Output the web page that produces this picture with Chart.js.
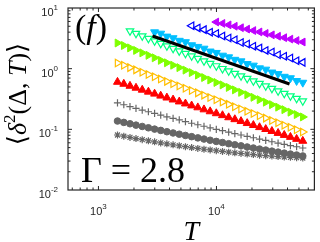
<!DOCTYPE html>
<html>
<head>
<meta charset="utf-8">
<script src="https://cdn.jsdelivr.net/npm/chart.js@4"></script>
<style>
    body { margin: 0; background: #fff; }
</style>
</head>
<body>
<canvas id="msdChart" width="320" height="242"></canvas>
<script>
// lag times T (shared grid, each curve starts at a different index)
const T = [1450, 1640, 1850, 2080, 2350, 2650, 2990, 3370, 3800, 4290, 4840, 5460, 6160, 6950, 7840,
           8840, 9970, 11250, 12690, 14310, 16150, 18210, 20550, 23180, 26150, 29500, 33280, 37540,
           42350, 47770, 53890];

// <delta^2(Delta,T)> for each curve, top to bottom
const magenta = [5.87, 5.57, 5.27, 5.0, 4.73, 4.49, 4.25, 4.03, 3.81, 3.61, 3.42, 3.24, 3.07, 2.91, 2.75];
const blue = [5.1, 4.7, 4.4, 4.0, 3.8, 3.45, 3.2, 3.0, 2.7, 2.55, 2.35, 2.2, 2.0, 1.88, 1.7, 1.6, 1.5, 1.35, 1.27];
const cyan = [4.0, 3.8, 3.4, 3.2, 2.9, 2.75, 2.45, 2.3, 2.15, 1.93, 1.83, 1.65, 1.55, 1.41, 1.33, 1.2, 1.13,
              1.02, 0.97, 0.87, 0.82, 0.74, 0.70, 0.63, 0.59];
const green = [4.18, 3.80, 3.46, 3.14, 2.86, 2.60, 2.37, 2.15, 1.95, 1.78, 1.62, 1.47, 1.34, 1.22, 1.11, 1.0,
               0.916, 0.834, 0.757, 0.689, 0.627, 0.570, 0.519, 0.471, 0.429, 0.390, 0.355, 0.323, 0.293];
const lime = [2.65, 2.41, 2.20, 2.00, 1.82, 1.66, 1.51, 1.37, 1.25, 1.14, 1.04, 0.946, 0.861, 0.783, 0.714,
              0.650, 0.592, 0.540, 0.491, 0.447, 0.407, 0.371, 0.337, 0.308, 0.280, 0.255, 0.232, 0.211,
              0.192, 0.175, 0.160];
const orange = [1.24, 1.14, 1.04, 0.955, 0.875, 0.802, 0.735, 0.673, 0.617, 0.565, 0.519, 0.475, 0.436, 0.399,
                0.366, 0.335, 0.307, 0.281, 0.258, 0.236, 0.216, 0.198, 0.182, 0.167, 0.153, 0.140, 0.128,
                0.117, 0.108, 0.0986, 0.0904];
const red = [0.603, 0.560, 0.519, 0.482, 0.447, 0.415, 0.385, 0.357, 0.332, 0.308, 0.286, 0.265, 0.246, 0.229,
             0.212, 0.197, 0.183, 0.170, 0.157, 0.146, 0.136, 0.126, 0.117, 0.108, 0.1005, 0.0933, 0.0867,
             0.0804, 0.0746, 0.0692, 0.0643];
const grayPlus = [0.272, 0.254, 0.237, 0.222, 0.208, 0.195, 0.183, 0.172, 0.161, 0.152, 0.143, 0.134, 0.126,
                  0.119, 0.1125, 0.106, 0.100, 0.0949, 0.0898, 0.0851, 0.0807, 0.0765, 0.0726, 0.0690, 0.0656,
                  0.0624, 0.0594, 0.0566, 0.0540, 0.0516, 0.0492];
const grayCircle = [0.137, 0.130, 0.1235, 0.1173, 0.1115, 0.106, 0.1008, 0.096, 0.0914, 0.0871, 0.0831, 0.0793,
                    0.0757, 0.0723, 0.0691, 0.0661, 0.0632, 0.0606, 0.058, 0.0556, 0.0534, 0.0512, 0.0492,
                    0.0473, 0.0455, 0.0437, 0.0421, 0.0405, 0.0391, 0.0377, 0.0364];
const grayStar = [0.0807, 0.077, 0.0736, 0.0705, 0.0675, 0.0648, 0.0622, 0.0598, 0.0576, 0.0555, 0.0536, 0.0518,
                  0.0501, 0.0485, 0.047, 0.0457, 0.0444, 0.0432, 0.0421, 0.041, 0.040, 0.0392, 0.0383, 0.0375,
                  0.0368, 0.0362, 0.0356, 0.035, 0.0345, 0.0341, 0.0337];

// guide line (power law)
const guideT = [2870, 41600];
const guideY = [3.45, 0.559];

const xTickExps = [3, 4];
const yTickExps = [-2, -1, 0, 1];

function series(start, values, color, shape, rotation, filled, radius) {
    return {
        data: values.map((v, i) => ({ x: T[start + i], y: v })),
        showLine: false,
        pointStyle: shape,
        pointRotation: rotation,
        pointRadius: radius,
        pointBorderWidth: filled ? 1 : 1.2,
        pointBorderColor: color,
        pointBackgroundColor: filled ? color : 'rgba(0,0,0,0)'
    };
}

const gray = '#666666';
const datasets = [
    {
        data: guideT.map((t, i) => ({ x: t, y: guideY[i] })),
        showLine: true,
        borderColor: '#000',
        borderWidth: 3,
        pointRadius: 0
    },
    series(16, magenta, '#bf00ff', 'triangle', 270, true, 4.5),
    series(12, blue, '#0000ff', 'triangle', 270, false, 4.3),
    series(6, cyan, '#00bfff', 'triangle', 180, true, 4.6),
    series(2, green, '#00ff80', 'triangle', 180, false, 4.3),
    series(0, lime, '#80ff00', 'triangle', 90, true, 4.6),
    series(0, orange, '#ffbf00', 'triangle', 90, false, 4.3),
    series(0, red, '#ff0000', 'triangle', 0, true, 4.6),
    series(0, grayPlus, gray, 'cross', 0, false, 3.6),
    series(0, grayCircle, gray, 'circle', 0, true, 3.3),
    series(0, grayStar, gray, 'star', 0, false, 3.5)
];

function drawRuns(ctx, parts, x, y) {
    let cx = x;
    parts.forEach(function(p) {
        ctx.font = p[1];
        ctx.fillText(p[0], cx, y + (p[2] || 0));
        cx += ctx.measureText(p[0]).width;
    });
    return cx - x;
}

function runsWidth(ctx, parts) {
    let w = 0;
    parts.forEach(function(p) { ctx.font = p[1]; w += ctx.measureText(p[0]).width; });
    return w;
}

const sans = '"Liberation Sans", Arial, sans-serif';
const serif = '"Liberation Serif", "DejaVu Serif", serif';

const framePlugin = {
    id: 'frame',
    afterDraw(chart) {
        const ctx = chart.ctx;
        const a = chart.chartArea;
        const xs = chart.scales.x, ys = chart.scales.y;
        ctx.save();
        ctx.strokeStyle = '#262626';
        ctx.lineWidth = 1.2;
        ctx.strokeRect(a.left, a.top, a.right - a.left, a.bottom - a.top);

        // inward ticks on all four sides
        ctx.lineWidth = 1;
        ctx.beginPath();
        for (let e = 2; e <= 4; e++) {
            for (let m = 1; m <= 9; m++) {
                const px = xs.getPixelForValue(m * Math.pow(10, e));
                if (px < a.left + 1 || px > a.right - 1) continue;
                const len = m === 1 ? 4 : 2.5;
                ctx.moveTo(px, a.bottom); ctx.lineTo(px, a.bottom - len);
                ctx.moveTo(px, a.top); ctx.lineTo(px, a.top + len);
            }
        }
        for (let e = -2; e <= 1; e++) {
            for (let m = 1; m <= 9; m++) {
                const py = ys.getPixelForValue(m * Math.pow(10, e));
                if (py < a.top + 1 || py > a.bottom - 1) continue;
                const len = m === 1 ? 4 : 2.5;
                ctx.moveTo(a.left, py); ctx.lineTo(a.left + len, py);
                ctx.moveTo(a.right, py); ctx.lineTo(a.right - len, py);
            }
        }
        ctx.stroke();

        // tick labels with superscript exponents
        ctx.fillStyle = '#262626';
        ctx.textAlign = 'left';
        ctx.textBaseline = 'alphabetic';
        xTickExps.forEach(function(e) {
            const parts = [['10', '11px ' + sans], [String(e), '8px ' + sans, -6]];
            const w = runsWidth(ctx, parts);
            drawRuns(ctx, parts, xs.getPixelForValue(Math.pow(10, e)) - w / 2, 215);
        });
        yTickExps.forEach(function(e) {
            const parts = [['10', '11px ' + sans], [String(e), '8px ' + sans, -6]];
            const w = runsWidth(ctx, parts);
            drawRuns(ctx, parts, 58 - w, ys.getPixelForValue(Math.pow(10, e)) + 8);
        });

        // axis titles
        ctx.fillStyle = '#000';
        const tParts = [['T', 'italic 28px ' + serif]];
        drawRuns(ctx, tParts, (a.left + a.right) / 2 - runsWidth(ctx, tParts) / 2, 240);

        const yParts = [
            ['\u27E8', '26px ' + serif],
            ['\u03B4', 'italic 26px ' + serif],
            ['2', '17px ' + serif, -11],
            ['(', '26px ' + serif],
            ['\u0394', '26px ' + serif],
            [', ', '26px ' + serif],
            ['T', 'italic 26px ' + serif],
            [')', '26px ' + serif],
            ['\u27E9', '26px ' + serif]
        ];
        ctx.save();
        ctx.translate(26, 94);
        ctx.rotate(-Math.PI / 2);
        drawRuns(ctx, yParts, -runsWidth(ctx, yParts) / 2, 0);
        ctx.restore();

        // panel annotations
        drawRuns(ctx, [['(', '34px ' + serif], ['f', 'italic 34px ' + serif], [')', '34px ' + serif]], 75, 38);
        drawRuns(ctx, [['\u0393 = 2.8', '36px ' + serif]], 81, 182);
        ctx.restore();
    }
};

const ctx = document.getElementById('msdChart').getContext('2d');
const msdChart = new Chart(ctx, {
    type: 'scatter',
    data: { datasets: datasets },
    options: {
        responsive: false,
        animation: false,
        layout: { padding: { left: 68, right: 5, top: 8, bottom: 52 } },
        plugins: { legend: { display: false }, tooltip: { enabled: false } },
        scales: {
            x: { type: 'logarithmic', min: 552, max: 67600, display: false },
            y: { type: 'logarithmic', min: 0.01, max: 10, display: false }
        }
    },
    plugins: [framePlugin]
});
</script>
</body>
</html>
